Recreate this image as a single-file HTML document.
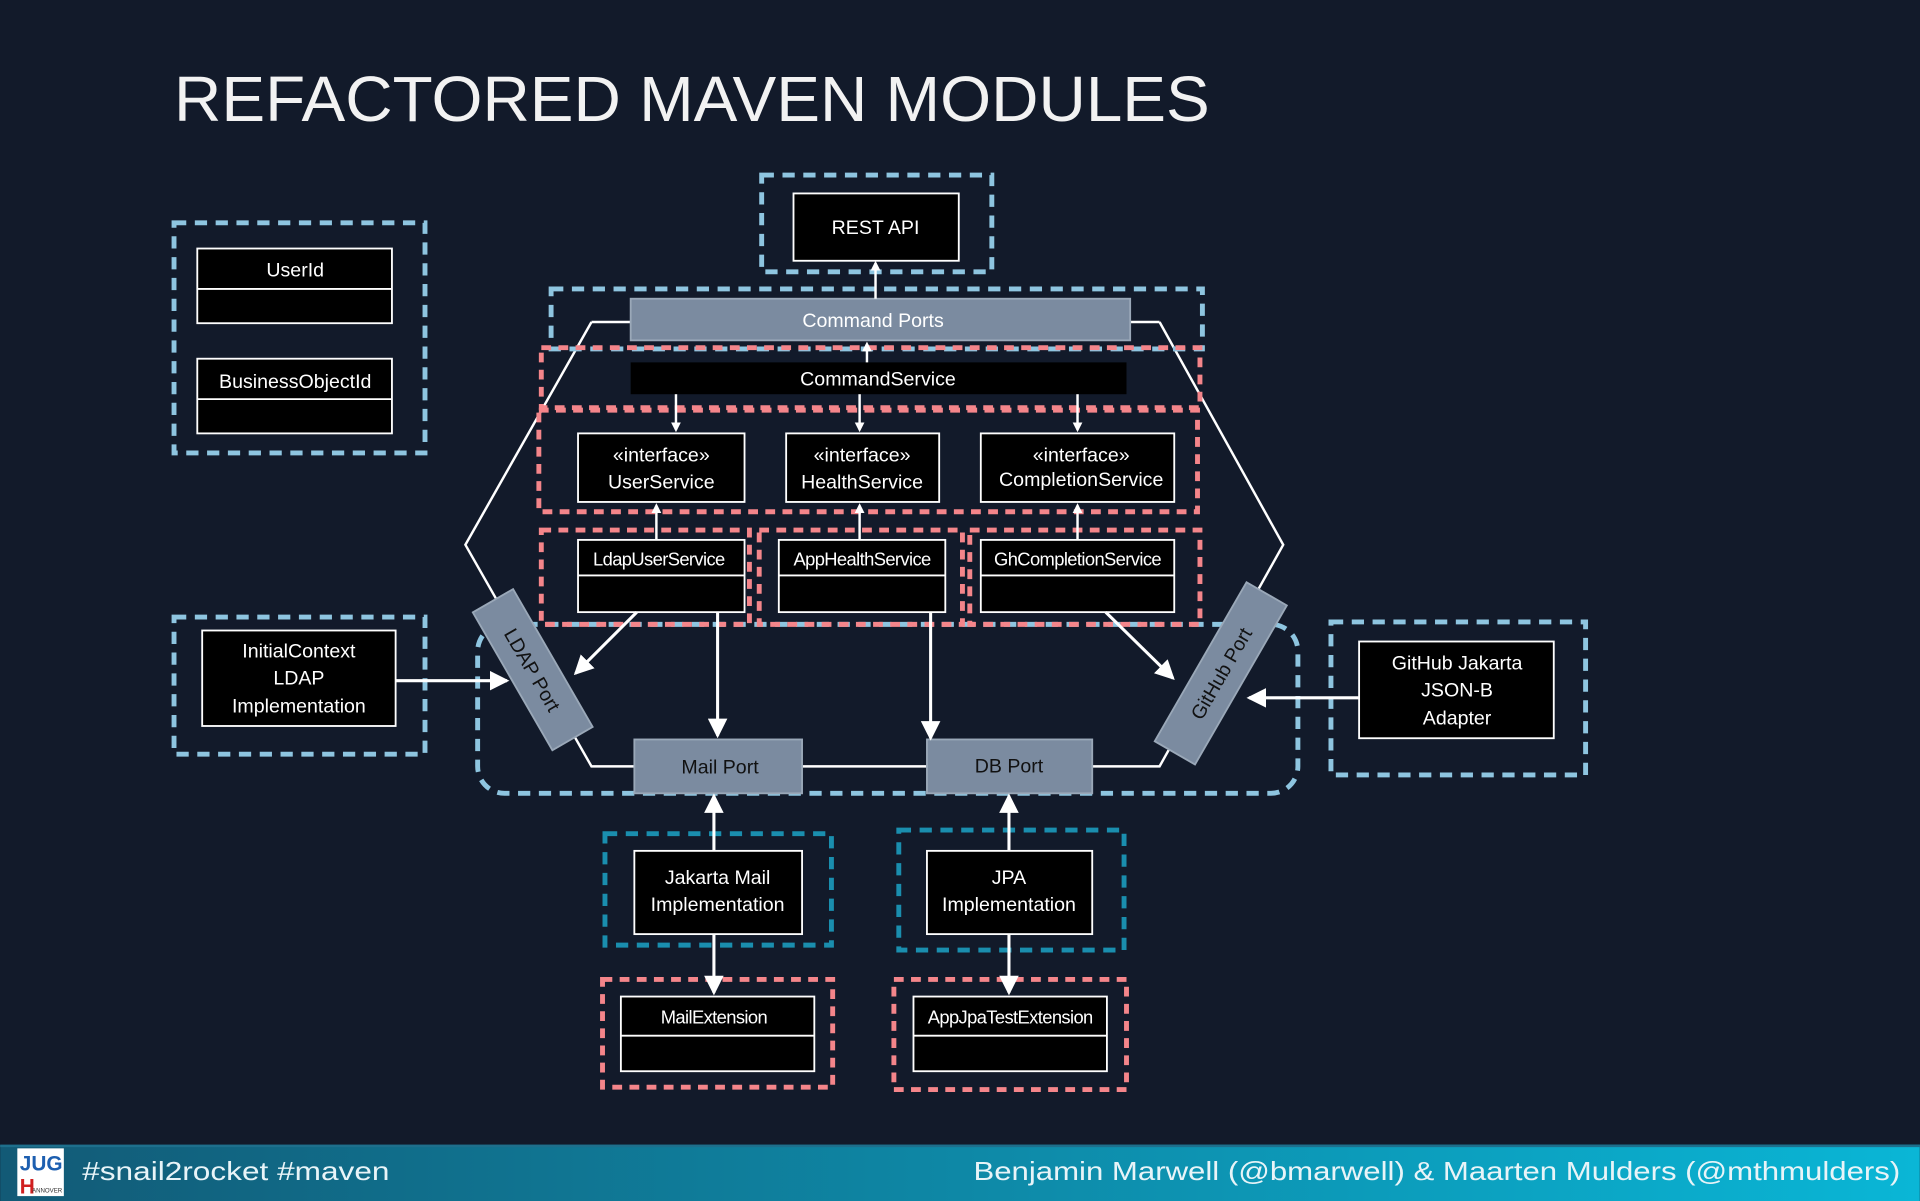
<!DOCTYPE html>
<html><head><meta charset="utf-8"><style>
html,body{margin:0;padding:0;background:#121a2a;}
svg{display:block}
text{font-family:"Liberation Sans","DejaVu Sans",sans-serif;}
</style></head><body>
<svg width="1920" height="1201" viewBox="0 0 1568 981" xmlns="http://www.w3.org/2000/svg">
<defs>
<linearGradient id="ft" x1="0" x2="1"><stop offset="0" stop-color="#125a76"/><stop offset="1" stop-color="#0ab6d6"/></linearGradient>
<marker id="ah" markerWidth="8" markerHeight="8" refX="6" refY="4" orient="auto" markerUnits="userSpaceOnUse"><path d="M0,0 L8,4 L0,8 z" fill="#fff"/></marker>
<marker id="ab" markerWidth="16" markerHeight="16" refX="14" refY="8" orient="auto" markerUnits="userSpaceOnUse"><path d="M0,0 L16,8 L0,16 z" fill="#fff"/></marker>
</defs>
<rect width="1568" height="981" fill="#121a2a"/>
<text x="142" y="99" font-size="52" fill="#f2f2f2" textLength="846" lengthAdjust="spacingAndGlyphs">REFACTORED MAVEN MODULES</text>

<polyline points="483,263 380,445 483,626 947,626 1048,445 947,263" fill="none" stroke="#fff" stroke-width="2"/>
<line x1="483" y1="263" x2="947" y2="263" stroke="#fff" stroke-width="2"/>

<g fill="none" stroke-width="4" stroke-dasharray="10,7">
<rect x="142" y="182" width="205" height="188" stroke="#8ec5e0"/>
<rect x="622" y="143" width="188" height="79" stroke="#8ec5e0"/>
<rect x="450" y="236" width="532" height="49" stroke="#8ec5e0"/>
<rect x="390" y="510" width="670" height="138" rx="22" stroke="#8ec5e0"/>
<rect x="142" y="504" width="205" height="112" stroke="#8ec5e0"/>
<rect x="1087" y="508" width="208" height="125" stroke="#8ec5e0"/>
<rect x="494" y="681" width="185" height="91" stroke="#1a8eae"/>
<rect x="734" y="678" width="184" height="98" stroke="#1a8eae"/>
</g>
<g fill="none" stroke="#f4858a" stroke-width="4" stroke-dasharray="8,6">
<rect x="442" y="284" width="538" height="49"/>
<rect x="440" y="335" width="538" height="83"/>
<rect x="442" y="433" width="170" height="77"/>
<rect x="620" y="433" width="166" height="77"/>
<rect x="792" y="433" width="188" height="77"/>
<rect x="492" y="800" width="188" height="88"/>
<rect x="730" y="800" width="190" height="90"/>
</g>

<g stroke="#fff" stroke-width="1.5" fill="#000">
<rect x="161" y="203" width="159" height="61"/><line x1="161" y1="236" x2="320" y2="236"/>
<rect x="161" y="293" width="159" height="61"/><line x1="161" y1="326" x2="320" y2="326"/>
<rect x="648" y="158" width="135" height="55"/>
<rect x="472" y="354" width="136" height="56"/>
<rect x="642" y="354" width="125" height="56"/>
<rect x="801" y="354" width="158" height="56"/>
<rect x="472" y="441" width="136" height="59"/><line x1="472" y1="470" x2="608" y2="470"/>
<rect x="636" y="441" width="136" height="59"/><line x1="636" y1="470" x2="772" y2="470"/>
<rect x="801" y="441" width="158" height="59"/><line x1="801" y1="470" x2="959" y2="470"/>
<rect x="165" y="515" width="158" height="78"/>
<rect x="1110" y="524" width="159" height="79"/>
<rect x="518" y="695" width="137" height="68"/>
<rect x="757" y="695" width="135" height="68"/>
<rect x="507" y="814" width="158" height="61"/><line x1="507" y1="846" x2="665" y2="846"/>
<rect x="746" y="814" width="158" height="61"/><line x1="746" y1="846" x2="904" y2="846"/>
</g>
<rect x="515" y="296" width="405" height="26" fill="#000"/>

<g fill="#7b8ba0" stroke="#9aa8b8" stroke-width="1.5">
<rect x="515" y="244" width="408" height="34"/>
<rect x="518" y="604" width="137" height="44"/>
<rect x="757" y="604" width="135" height="44"/>
<rect x="-65" y="-19" width="130" height="38" transform="translate(435,547) rotate(60)"/>
<rect x="-75" y="-19" width="150" height="38" transform="translate(997,550) rotate(-60)"/>
</g>

<g stroke="#fff" stroke-width="2" fill="none" marker-end="url(#ah)">
<line x1="715" y1="244" x2="715" y2="215"/>
<line x1="708" y1="296" x2="708" y2="281"/>
<line x1="552" y1="322" x2="552" y2="351"/>
<line x1="702" y1="322" x2="702" y2="351"/>
<line x1="880" y1="322" x2="880" y2="351"/>
<line x1="536" y1="441" x2="536" y2="413"/>
<line x1="702" y1="441" x2="702" y2="413"/>
<line x1="880" y1="441" x2="880" y2="413"/>
</g>
<g stroke="#fff" stroke-width="2.5" fill="none" marker-end="url(#ab)">
<line x1="520" y1="500" x2="470" y2="550"/>
<line x1="586" y1="500" x2="586" y2="601"/>
<line x1="760" y1="500" x2="760" y2="603"/>
<line x1="903" y1="500" x2="958" y2="554"/>
<line x1="323" y1="556" x2="414" y2="556"/>
<line x1="1110" y1="570" x2="1020" y2="570"/>
<line x1="583" y1="695" x2="583" y2="650"/>
<line x1="583" y1="763" x2="583" y2="811"/>
<line x1="824" y1="695" x2="824" y2="650"/>
<line x1="824" y1="763" x2="824" y2="811"/>
</g>

<g fill="#fff" font-size="16" text-anchor="middle">
<text x="241" y="226">UserId</text>
<text x="241" y="317">BusinessObjectId</text>
<text x="715" y="191">REST API</text>
<text x="713" y="267">Command Ports</text>
<text x="717" y="315">CommandService</text>
<text x="540" y="377">«interface»</text><text x="540" y="399">UserService</text>
<text x="704" y="377">«interface»</text><text x="704" y="399">HealthService</text>
<text x="883" y="377">«interface»</text><text x="883" y="397">CompletionService</text>
<text x="538" y="462" font-size="15" letter-spacing="-0.5">LdapUserService</text>
<text x="704" y="462" font-size="15" letter-spacing="-0.5">AppHealthService</text>
<text x="880" y="462" font-size="15" letter-spacing="-0.5">GhCompletionService</text>
<text x="244" y="537">InitialContext</text><text x="244" y="559">LDAP</text><text x="244" y="582">Implementation</text>
<text x="1190" y="547">GitHub Jakarta</text><text x="1190" y="569">JSON-B</text><text x="1190" y="592">Adapter</text>
<text x="586" y="722">Jakarta Mail</text><text x="586" y="744">Implementation</text>
<text x="824" y="722">JPA</text><text x="824" y="744">Implementation</text>
<text x="583" y="836" font-size="15" letter-spacing="-0.5">MailExtension</text>
<text x="825" y="836" font-size="15" letter-spacing="-0.5">AppJpaTestExtension</text>
</g>
<g fill="#111" font-size="16" text-anchor="middle">
<text x="588" y="632">Mail Port</text>
<text x="824" y="631">DB Port</text>
<text transform="translate(435,547) rotate(60)" y="6">LDAP Port</text>
<text transform="translate(997,550) rotate(-60)" y="6">GitHub Port</text>
</g>

<rect x="0" y="935" width="1568" height="46" fill="url(#ft)"/>
<rect x="0" y="935" width="1568" height="2" fill="#1e6f8c"/>
<rect x="14" y="938" width="38" height="39" fill="#fff"/>
<text x="16" y="956" font-size="17" font-weight="bold" fill="#1d5fb0">JUG</text>
<text x="16" y="975" font-size="17" font-weight="bold" fill="#d02020">H</text>
<text x="26" y="974" font-size="5" fill="#333">ANNOVER</text>
<text x="67" y="964" font-size="21" fill="#e8f4f8" textLength="251" lengthAdjust="spacingAndGlyphs">#snail2rocket #maven</text>
<text x="795" y="964" font-size="21" fill="#e8f4f8" textLength="757" lengthAdjust="spacingAndGlyphs">Benjamin Marwell (@bmarwell) &amp; Maarten Mulders (@mthmulders)</text>
</svg>
</body></html>
